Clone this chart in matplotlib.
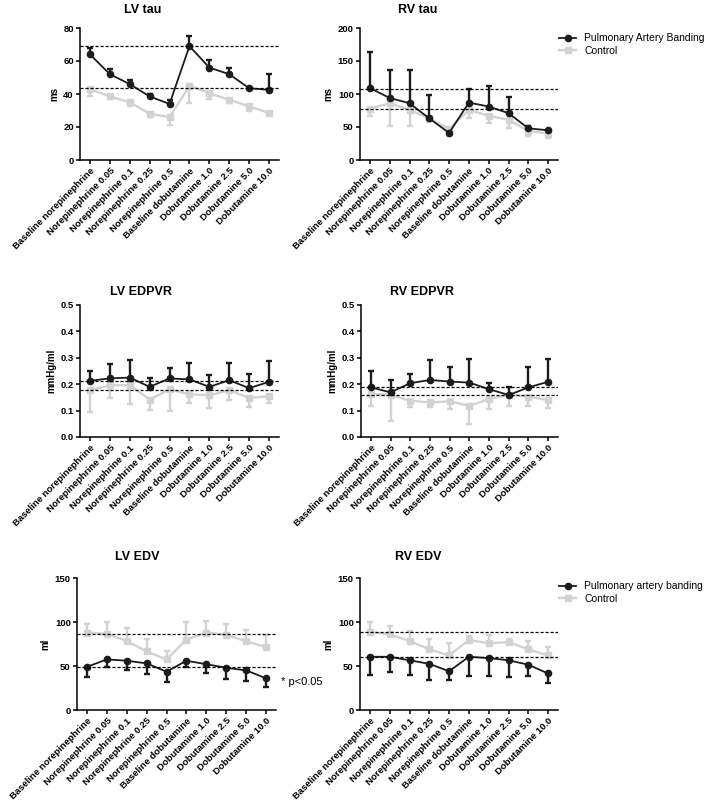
import matplotlib
matplotlib.use('Agg')
import matplotlib.pyplot as plt
from matplotlib.lines import Line2D

plt.rcParams['font.family'] = ['Liberation Sans', 'DejaVu Sans']

DOSES = ['Baseline norepinephrine', 'Norepinephrine 0.05', 'Norepinephrine 0.1',
         'Norepinephrine 0.25', 'Norepinephrine 0.5', 'Baseline dobutamine',
         'Dobutamine 1.0', 'Dobutamine 2.5', 'Dobutamine 5.0', 'Dobutamine 10.0']

# LV tau (ms)
lv_tau_pab = [64, 52, 46, 38.5, 34, 69, 56, 52, 43.5, 42.5]
lv_tau_pab_err = [3.8, 3, 2.6, 1.5, 2.4, 6, 4.7, 3.7, 1, 9.5]
lv_tau_ctrl = [43, 38.5, 35, 28, 26, 45, 40.5, 36.5, 32.5, 28.5]
lv_tau_ctrl_err = [4.5, 1.5, 2, 2, 5, 10.5, 3.5, 2, 3, 0.5]
lv_tau_ref = [69, 43.5]

# RV tau (ms)
rv_tau_pab = [109, 94, 86, 63, 41, 87, 81, 71, 48, 45]
rv_tau_pab_err = [55, 43, 51, 36, 0, 20, 31, 25, 4, 0]
rv_tau_ctrl = [78, 86, 76, 63, 47, 76, 67, 61, 44, 40]
rv_tau_ctrl_err = [12, 34, 25, 5, 11, 13, 11, 13, 8, 7]
rv_tau_ref = [108, 78]

# LV EDPVR (mmHg/ml)
lv_edpvr_pab = [0.213, 0.222, 0.225, 0.19, 0.222, 0.218, 0.19, 0.215, 0.185, 0.209]
lv_edpvr_pab_err = [0.036, 0.054, 0.066, 0.035, 0.041, 0.063, 0.046, 0.066, 0.055, 0.08]
lv_edpvr_ctrl = [0.177, 0.196, 0.196, 0.142, 0.18, 0.162, 0.158, 0.177, 0.148, 0.154]
lv_edpvr_ctrl_err = [0.082, 0.05, 0.072, 0.041, 0.081, 0.035, 0.05, 0.038, 0.034, 0.027]
lv_edpvr_ref = [0.213, 0.177]

# RV EDPVR (mmHg/ml)
rv_edpvr_pab = [0.188, 0.169, 0.204, 0.216, 0.21, 0.206, 0.181, 0.159, 0.188, 0.209]
rv_edpvr_pab_err = [0.061, 0.047, 0.033, 0.077, 0.057, 0.089, 0.025, 0.031, 0.077, 0.085]
rv_edpvr_ctrl = [0.163, 0.16, 0.137, 0.131, 0.135, 0.118, 0.144, 0.16, 0.153, 0.14]
rv_edpvr_ctrl_err = [0.045, 0.099, 0.025, 0.016, 0.029, 0.07, 0.038, 0.042, 0.035, 0.031]
rv_edpvr_ref = [0.188, 0.16]

# LV EDV (ml)
lv_edv_pab = [49, 57.5, 56, 53, 43.5, 56, 52, 48, 45, 36]
lv_edv_pab_err = [12, 8.5, 10, 12, 11.5, 7.5, 9.5, 13, 11.5, 9.5]
lv_edv_ctrl = [88, 86.5, 78.5, 66.5, 57.5, 80, 88, 85.5, 78, 71.5]
lv_edv_ctrl_err = [10, 13, 14.5, 14, 10, 20.5, 13.5, 12.5, 13, 14]
lv_edv_ref = [86.5, 49]

# RV EDV (ml)
rv_edv_pab = [60.5, 60.5, 56.5, 52.5, 44, 60.5, 59, 56.5, 51.5, 41.5]
rv_edv_pab_err = [20.5, 17.5, 16.5, 18, 9.5, 21.5, 20, 19, 12.5, 11]
rv_edv_ctrl = [88.5, 86, 78.5, 69, 62, 79.5, 76, 77, 69, 62]
rv_edv_ctrl_err = [11.5, 9, 11.5, 11.5, 14.5, 4.5, 9, 3.5, 9.5, 10]
rv_edv_ref = [88.5, 60.5]

DARK = '#1c1c1c'
LIGHT = '#d2d2d2'
TICK_FS = 6.8

W, H = 712, 806
fig = plt.figure(figsize=(W / 100, H / 100), dpi=100)


def make_axes(x0, x1, ytop, ybot):
    return fig.add_axes([x0 / W, 1 - ybot / H, (x1 - x0) / W, (ybot - ytop) / H])


def panel(ax, pab, pab_err, ctrl, ctrl_err, ref, ymax, yticks, ylabel,
          pab_up=True, fmt='{:g}'):
    x = list(range(len(DOSES)))
    zeros = [0] * len(x)
    pab_yerr = [zeros, pab_err] if pab_up else [pab_err, zeros]
    ctrl_yerr = [ctrl_err, zeros] if pab_up else [zeros, ctrl_err]
    ax.errorbar(x, ctrl, yerr=ctrl_yerr, color=LIGHT, marker='s', markersize=4,
                lw=1.7, elinewidth=1.7, capsize=2.5, capthick=1.7, zorder=2)
    ax.errorbar(x, pab, yerr=pab_yerr, color=DARK, marker='o', markersize=4.5,
                lw=1.3, elinewidth=1.7, capsize=2.5, capthick=1.7, zorder=3)
    for r in ref:
        ax.axhline(r, color='black', lw=0.9, ls=(0, (2.5, 1.5)), zorder=4)
    ax.set_xlim(-0.5, 9.5)
    ax.set_ylim(0, ymax)
    ax.set_yticks(yticks)
    ax.set_yticklabels([fmt.format(v) for v in yticks],
                       fontsize=TICK_FS, fontweight='bold')
    ax.set_xticks(x)
    ax.set_xticklabels(DOSES, rotation=45, ha='right', rotation_mode='anchor',
                       fontsize=TICK_FS, fontweight='bold')
    ax.set_ylabel(ylabel, fontsize=7, fontweight='bold', labelpad=3)
    ax.spines['top'].set_visible(False)
    ax.spines['right'].set_visible(False)
    ax.spines['left'].set_linewidth(1.1)
    ax.spines['bottom'].set_linewidth(1.1)
    ax.tick_params(direction='out', length=3, width=1.1, pad=1.5)


# Row 1
ax1 = make_axes(80, 279, 28, 160)
panel(ax1, lv_tau_pab, lv_tau_pab_err, lv_tau_ctrl, lv_tau_ctrl_err, lv_tau_ref,
      80, [0, 20, 40, 60, 80], 'ms')
ax2 = make_axes(360, 558, 28, 160)
panel(ax2, rv_tau_pab, rv_tau_pab_err, rv_tau_ctrl, rv_tau_ctrl_err, rv_tau_ref,
      200, [0, 50, 100, 150, 200], 'ms')

# Row 2
ax3 = make_axes(80, 279, 305, 437)
panel(ax3, lv_edpvr_pab, lv_edpvr_pab_err, lv_edpvr_ctrl, lv_edpvr_ctrl_err,
      lv_edpvr_ref, 0.5, [0.0, 0.1, 0.2, 0.3, 0.4, 0.5], 'mmHg/ml', fmt='{:.1f}')
ax4 = make_axes(361, 558, 305, 437)
panel(ax4, rv_edpvr_pab, rv_edpvr_pab_err, rv_edpvr_ctrl, rv_edpvr_ctrl_err,
      rv_edpvr_ref, 0.5, [0.0, 0.1, 0.2, 0.3, 0.4, 0.5], 'mmHg/ml', fmt='{:.1f}')

# Row 3
ax5 = make_axes(77, 276, 578, 710)
panel(ax5, lv_edv_pab, lv_edv_pab_err, lv_edv_ctrl, lv_edv_ctrl_err, lv_edv_ref,
      150, [0, 50, 100, 150], 'ml', pab_up=False)
ax6 = make_axes(360, 558, 578, 710)
panel(ax6, rv_edv_pab, rv_edv_pab_err, rv_edv_ctrl, rv_edv_ctrl_err, rv_edv_ref,
      150, [0, 50, 100, 150], 'ml', pab_up=False)

# titles
titles = [('LV tau', 143, 10), ('RV tau', 418, 10),
          ('LV EDPVR', 141, 292), ('RV EDPVR', 422, 292),
          ('LV EDV', 137, 557), ('RV EDV', 418, 557)]
for text, tx, ty in titles:
    fig.text(tx / W, 1 - ty / H, text, ha='center', va='center',
             fontsize=9, fontweight='bold')


def legend_at(y0, name):
    handles = [Line2D([], [], color=DARK, marker='o', markersize=4.5, lw=1.3),
               Line2D([], [], color=LIGHT, marker='s', markersize=4, lw=1.7)]
    fig.legend(handles, [name, 'Control'], loc='upper left',
               bbox_to_anchor=(555 / W, 1 - y0 / H), frameon=False,
               fontsize=7.5, handlelength=1.6, handletextpad=0.8,
               labelspacing=0.25, borderaxespad=0)


legend_at(29, 'Pulmonary Artery Banding')
legend_at(577, 'Pulmonary artery banding')

fig.text(281 / W, 1 - 682 / H, '* p<0.05', ha='left', va='center', fontsize=8)

fig.savefig('out.png', dpi=100)
